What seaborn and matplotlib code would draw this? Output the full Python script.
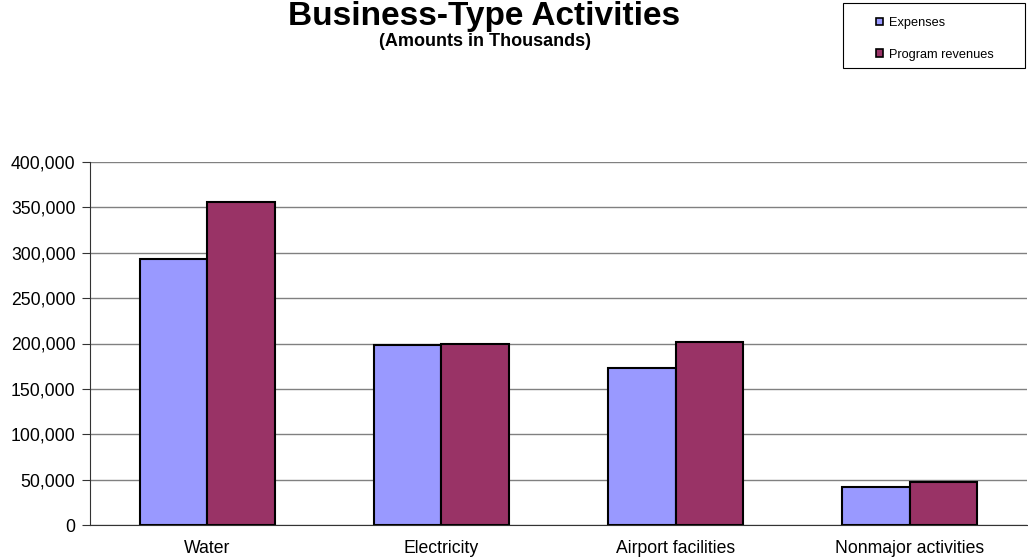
import matplotlib
matplotlib.use("Agg")
import matplotlib.pyplot as plt
import matplotlib.ticker as mticker
from matplotlib.patches import Rectangle
import pandas as pd
import seaborn as sns

categories = ["Water", "Electricity", "Airport facilities", "Nonmajor activities"]
expenses = [293000, 198000, 173000, 42000]
program_revenues = [356000, 199000, 202000, 47500]
series_names = ["Expenses", "Program revenues"]
colors = ["#9999FF", "#993366"]

df = pd.DataFrame({
    "category": categories * 2,
    "series": [series_names[0]] * len(categories) + [series_names[1]] * len(categories),
    "value": expenses + program_revenues,
})

sns.set_style("white")
plt.rcParams["font.family"] = ["Liberation Sans", "DejaVu Sans"]
plt.rcParams["text.color"] = "black"
plt.rcParams["xtick.color"] = "black"
plt.rcParams["ytick.color"] = "black"

W, H = 1028, 558
fig = plt.figure(figsize=(W / 100, H / 100), dpi=100)
ax = fig.add_axes([90 / W, 1 - 525 / H, 937 / W, 363 / H])

sns.barplot(data=df, x="category", y="value", hue="series", order=categories,
            hue_order=series_names, palette=colors, width=0.576,
            edgecolor="black", linewidth=1.5, saturation=1, ax=ax, legend=True)

ax.set_ylim(0, 400000)
ax.set_xlim(-0.5, len(categories) - 0.5)
ax.yaxis.set_major_locator(mticker.MultipleLocator(50000))
ax.yaxis.set_major_formatter(mticker.FuncFormatter(lambda v, p: f"{int(v):,}"))
ax.grid(axis="y", color="#808080", linewidth=1)
ax.set_axisbelow(True)
ax.set_xlabel("")
ax.set_ylabel("")

for side in ["top", "right"]:
    ax.spines[side].set_visible(False)
ax.spines["left"].set_color("#333333")
ax.spines["bottom"].set_color("#333333")

ax.set_xticks(range(len(categories)))
ax.set_xticklabels(categories, fontsize=12.7)
ax.set_xticks([i - 0.5 for i in range(len(categories) + 1)], minor=True)
ax.tick_params(axis="x", which="major", length=0, pad=11)
ax.tick_params(axis="x", which="minor", length=5.5, color="#333333", direction="out")
ax.tick_params(axis="y", length=5.5, color="#333333", direction="out",
               labelsize=12.7, pad=5, left=True)

handles, labels = ax.get_legend_handles_labels()
ax.get_legend().remove()

# legend box drawn by hand so its size matches the original
fig.patches.append(Rectangle((843 / W, 1 - 68 / H), 182 / W, 65 / H,
                             transform=fig.transFigure, fill=False,
                             edgecolor="black", linewidth=0.8))
leg = fig.legend(handles, labels, loc="upper left", bbox_to_anchor=(876 / W, 1 - 17 / H),
                 frameon=False, fontsize=9.2,
                 handlelength=0.55, handleheight=0.55, handletextpad=0.45,
                 labelspacing=1.55, borderpad=0, borderaxespad=0)
for h in leg.legend_handles:
    h.set_edgecolor("black")
    h.set_linewidth(1.2)

fig.text(484 / W, 1 - 24.5 / H, "Business-Type Activities", ha="center", va="baseline",
         fontsize=24, fontweight="bold")
fig.text(485 / W, 1 - 46 / H, "(Amounts in Thousands)", ha="center", va="baseline",
         fontsize=13, fontweight="bold")

fig.savefig("out.png", dpi=100)
